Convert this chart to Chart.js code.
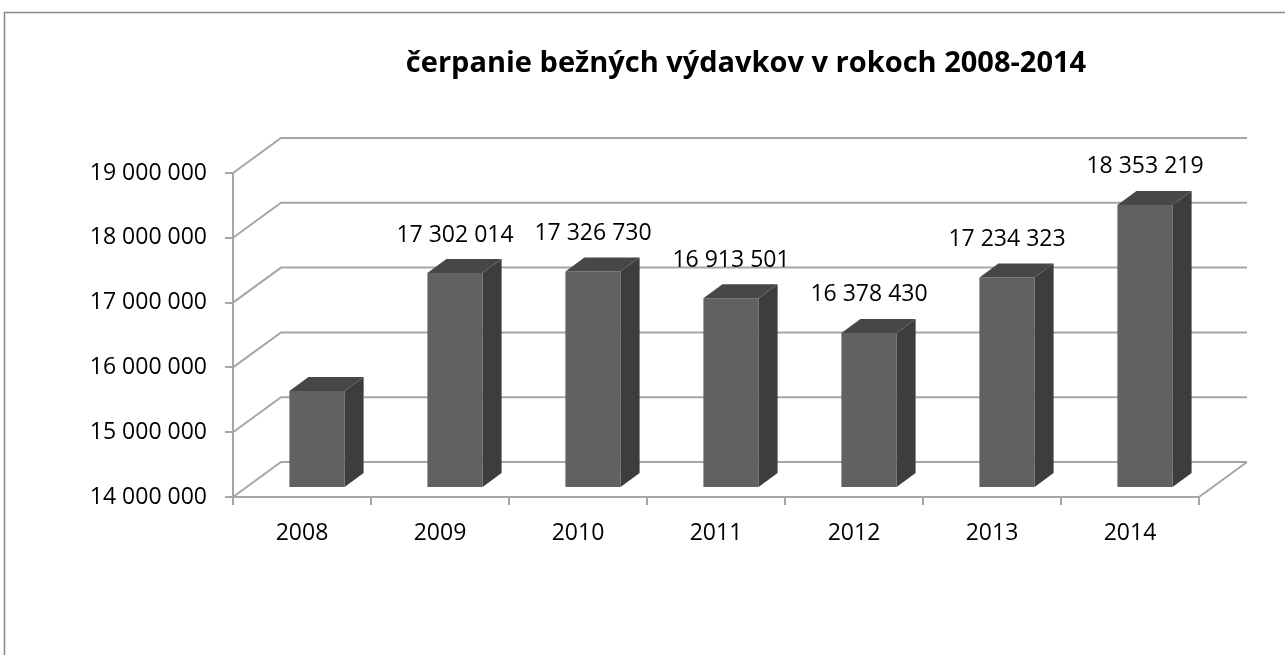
<!DOCTYPE html>
<html>
<head>
<meta charset="utf-8">
<script src="https://cdn.jsdelivr.net/npm/chart.js@4.4.0/dist/chart.umd.min.js"></script>
<style>
  html, body { margin: 0; padding: 0; background: #fff; }
  #wrap { width: 1285px; height: 655px; position: relative; }
</style>
</head>
<body>
<div id="wrap"><canvas id="myChart"></canvas></div>
<script>
const years = ['2008', '2009', '2010', '2011', '2012', '2013', '2014'];
const spending = [15480000, 17302014, 17326730, 16913501, 16378430, 17234323, 18353219];
const showValue = [false, true, true, true, true, true, true];
const yMin = 14000000;
const yMax = 19000000;
const yStep = 1000000;
const chartTitle = 'čerpanie bežných výdavkov v rokoch 2008-2014';

const fmt = n => String(n).replace(/\B(?=(\d{3})+(?!\d))/g, ' ');

// 3d look: back wall offset and bar position/depth
const WALL = { x: 48, y: -35 };
const BAR_SHIFT = { x: 15, y: -10 };
const BAR_DEPTH = { x: 19, y: -14 };
const LINE = '#a6a6a6';

const fake3d = {
  id: 'fake3d',
  beforeDraw(chart) {
    const ctx = chart.ctx;
    ctx.save();
    // chart frame
    ctx.strokeStyle = '#878787';
    ctx.lineWidth = 1.5;
    ctx.strokeRect(4.5, 12.5, 1400, 800);
    // title
    ctx.fillStyle = '#000';
    ctx.font = 'bold 29px "Open Sans"';
    ctx.textAlign = 'center';
    ctx.textBaseline = 'alphabetic';
    ctx.fillText(chartTitle, 746, 72);
    ctx.restore();
  },
  beforeDatasetsDraw(chart) {
    const { ctx, chartArea: a, scales: { y } } = chart;
    ctx.save();
    ctx.strokeStyle = LINE;
    ctx.lineWidth = 2;
    ctx.beginPath();
    y.ticks.forEach(t => {
      const py = y.getPixelForValue(t.value);
      ctx.moveTo(a.left, py);
      ctx.lineTo(a.left + WALL.x, py + WALL.y);
      ctx.lineTo(a.right + WALL.x, py + WALL.y);
    });
    ctx.moveTo(a.right, a.bottom);
    ctx.lineTo(a.right + WALL.x, a.bottom + WALL.y);
    ctx.stroke();
    ctx.restore();

    ctx.save();
    ctx.translate(BAR_SHIFT.x, BAR_SHIFT.y);
  },
  afterDatasetsDraw(chart) {
    const ctx = chart.ctx;
    const base = chart.scales.y.getPixelForValue(yMin);
    const meta = chart.getDatasetMeta(0);
    meta.data.forEach((bar, i) => {
      const { x, y, width } = bar.getProps(['x', 'y', 'width'], true);
      const l = x - width / 2, r = x + width / 2;
      // side
      ctx.fillStyle = '#3d3d3d';
      ctx.beginPath();
      ctx.moveTo(r, y);
      ctx.lineTo(r + BAR_DEPTH.x, y + BAR_DEPTH.y);
      ctx.lineTo(r + BAR_DEPTH.x, base + BAR_DEPTH.y);
      ctx.lineTo(r, base);
      ctx.closePath();
      ctx.fill();
      // top
      ctx.fillStyle = '#474747';
      ctx.beginPath();
      ctx.moveTo(l, y);
      ctx.lineTo(l + BAR_DEPTH.x, y + BAR_DEPTH.y);
      ctx.lineTo(r + BAR_DEPTH.x, y + BAR_DEPTH.y);
      ctx.lineTo(r, y);
      ctx.closePath();
      ctx.fill();
      // value label
      if (showValue[i]) {
        ctx.fillStyle = '#000';
        ctx.font = '23px "Open Sans"';
        ctx.textAlign = 'center';
        ctx.textBaseline = 'middle';
        ctx.fillText(fmt(spending[i]), x, y - 38);
      }
    });
    ctx.restore();
  }
};

const ctx = document.getElementById('myChart').getContext('2d');
new Chart(ctx, {
  type: 'bar',
  data: {
    labels: years,
    datasets: [{
      label: 'výdavky',
      data: spending,
      backgroundColor: '#616161',
      borderWidth: 0,
      categoryPercentage: 1,
      barPercentage: 0.4
    }]
  },
  options: {
    responsive: true,
    maintainAspectRatio: false,
    animation: false,
    layout: { padding: { left: 0, right: 86, top: 173, bottom: 98 } },
    plugins: {
      legend: { display: false },
      title: { display: false },
      tooltip: { enabled: false }
    },
    scales: {
      x: {
        grid: { drawOnChartArea: false, drawTicks: true, tickLength: 8, color: LINE, lineWidth: 2 },
        border: { color: LINE, width: 2 },
        ticks: { color: '#000', font: { family: 'Open Sans', size: 23 }, padding: 15, maxRotation: 0 },
        afterFit(scale) { scale.height = 60; }
      },
      y: {
        min: yMin,
        max: yMax,
        grid: { drawOnChartArea: false, drawTicks: true, tickLength: 8, color: LINE, lineWidth: 2 },
        border: { color: LINE, width: 2 },
        ticks: {
          stepSize: yStep,
          color: '#000',
          font: { family: 'Open Sans', size: 23 },
          padding: 18,
          callback: v => fmt(v)
        },
        afterFit(scale) { scale.width = 233; }
      }
    }
  },
  plugins: [fake3d]
});
</script>
</body>
</html>
